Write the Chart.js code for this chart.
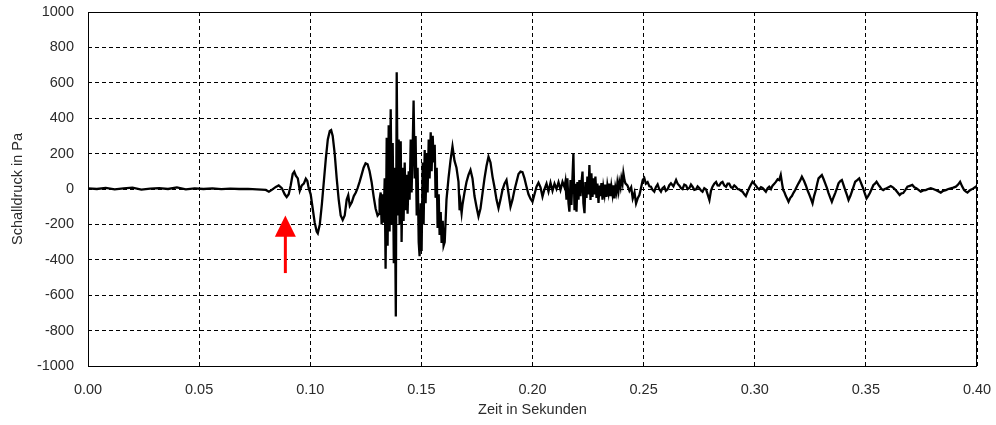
<!doctype html>
<html>

<head>
    <title>Schalldruck</title>
    <script src="https://cdn.jsdelivr.net/npm/chart.js@4.4.1/dist/chart.umd.min.js"></script>
    <style>
    body { margin: 0; background: #fff; }
    </style>
</head>

<body>
    <canvas id="mycanvas" width="996" height="425"></canvas>

<script>

// time in milliseconds, pressure in Pa
var quietMs = [0,4,8,12,16,20,24,28,32,36,40,44,48,52,56,60,64,68,72,76];
var quietPa = [3,0,6,-2,4,8,-3,2,5,0,9,-2,4,0,3,-1,2,0,1,-2];

var onsetMs = [80.0,81.4,82.7,84.5,85.8,87.2,88.5,89.4,90.3,91.2,92.1,92.8,93.5,94.4,95.3,96.2,97.1,98.0,98.7,99.3,
  100.2,101.1,102.0,102.9,103.4,104.3,105.2,106.1,107.0,107.9,108.8,109.4,110.1,111.0,111.9,112.8,113.7,114.6,115.5,116.4,
  117.1,117.8,118.7,119.6,120.5,121.3,122.2,123.1,124.0,124.9,125.8,126.7,127.6,128.5,129.4,130.3,131.0];
var onsetPa = [-5,-15,-5,12,20,5,-30,-45,-30,20,85,98,75,60,-10,20,30,58,45,5,
  -30,-110,-190,-240,-250,-200,-90,40,170,280,328,333,300,200,60,-60,-150,-175,-150,-60,
  -35,-95,-75,-40,-20,5,40,80,120,145,140,100,40,-40,-110,-150,-140];

var burstMs = [131.2,131.7,132.1,132.6,133.0,133.5,133.9,134.4,134.8,135.3,135.7,136.2,136.7,137.1,137.6,138.0,138.5,138.9,139.4,139.8,
  140.2,140.7,141.1,141.6,142.0,142.5,142.9,143.4,143.8,144.3,144.7,145.2,145.6,146.1,146.5,147.0,147.4,147.9,148.3,148.8,
  149.2,149.7,150.1,150.6,151.0,151.5,151.9,152.4,152.8,153.3,153.7,154.2,154.6,155.1,155.5,156.0,156.4,156.9,157.3,157.8,
  158.2,158.7,159.1,159.6,160.0];
var burstPa = [-60,-20,-200,-30,-190,60,-450,290,-320,360,-240,450,-200,260,-420,120,-720,660,-150,280,
  -200,270,-300,120,-180,150,-120,80,-140,100,-60,280,-20,250,500,60,300,-150,120,-300,
  -380,-80,-350,150,-200,220,-80,200,-20,280,60,320,100,300,150,250,-50,120,-220,-30,
  -260,-130,-305,-180,-320];

var midMs = [160.5,161.3,162.2,163.1,164.0,164.9,165.8,166.7,167.2,167.6,168.1,168.5,169.4,170.3,171.2,172.1,173.0,173.9,174.8,175.7,
  176.6,177.5,178.4,179.3,180.2,181.1,182.0,182.9,183.8,184.7,185.6,186.5,187.4,188.3,189.2,190.1,191.0,191.9,192.8,193.7,
  194.6,195.5,196.4,197.3,198.2,199.1,200.0,200.9,201.8,202.7,203.6,204.5,205.4,206.3,207.2,208.1,209.0,209.9,210.8,211.7,
  212.6,213.5,214.4];
var midPa = [-300,-60,60,160,240,160,120,40,-120,-80,-136,-90,-20,40,80,107,60,-40,-100,-155,
  -110,-25,60,130,182,150,70,10,-60,-108,-60,-5,30,51,-24,-100,-60,-5,40,85,
  98,95,60,13,-30,-55,-72,-30,13,36,10,-43,0,30,-15,35,-10,30,0,38,
  -5,40,10];

var tailBurstMs = [214.8,215.3,215.7,216.2,216.6,217.1,217.5,218.0,218.4,218.9,219.3,219.8,220.2,220.7,221.1,221.6,222.0,222.5,222.9,223.4,
  223.8,224.3,224.7,225.2,225.6,226.1,226.5,227.0,227.4,227.9,228.3,228.8,229.2,229.7,230.1,230.6,231.0,231.5,231.9,232.4,
  232.8,233.3,233.7,234.2,234.6,235.1,235.5,236.0,236.4,236.9,237.3,237.8,238.2,238.7,239.1,239.6,240.0,240.5,240.9,241.4,
  241.8];
var tailBurstPa = [40,-60,60,-80,-128,50,-90,70,201,-120,30,-128,40,-60,50,-40,30,98,-80,-137,
  40,-50,70,-30,136,-62,89,-45,60,-30,70,-50,30,-79,20,-40,34,-60,10,-30,
  25,-45,20,-20,30,-40,15,-30,20,-53,10,-20,34,-10,40,10,60,30,89,50,
  32];

var decayMs = [242.7,243.6,244.4,245.1,245.9,246.6,247.4,248.1,248.9,249.6,250.3,251.0,251.8,252.6,253.3,254.0,254.8,255.5,256.3,257.0,
  257.8,258.5,259.3,260.0,260.8,261.5,262.3,263.4,264.6,265.3,266.1,266.8,267.5,268.3,269.1,269.8,270.6,271.3,272.0,272.8,
  273.6,274.3,275.0,275.8,276.5,277.3,278.1,278.8,279.6,280.3,281.0,281.8,282.6,283.3,284.0,284.8,285.5,286.3,287.1,287.8,
  288.5,289.3,290.0,290.8,291.5,292.3,293.0,293.8,294.5,295.3,296.0,296.8,297.5,298.3,299.0,299.8,300.5,301.3,302.0,302.8,
  303.5,304.3,305.0,305.8,306.5,307.3,308.0,308.8,309.5,310.3,311.0,311.7,312.3,312.8,313.4,314.0,314.6,315.2,316.0,316.7,
  317.5,318.2,319.0,319.7,320.5,321.2,322.2,323.0,323.7,324.5,325.2,326.0,326.7,327.5,328.1,328.7,329.5,330.2,331.0,331.7,
  332.5,333.2,334.0,334.7,335.5,336.2,337.0,337.7,338.5,339.2,340.0,340.7,341.5,342.2,343.0,343.7,344.5,345.2,346.1,347.0,
  347.8,348.5,349.4,350.3,351.0,351.8,352.6,353.4,354.1,354.8,355.6,356.3,357.0,357.8,358.5,359.3,360.2,361.2,362.3,363.4,
  364.3,365.2,366.0,366.8,367.8,368.7,369.8,370.9,371.8,372.7,373.7,374.7,375.8,376.9,378.0,379.2,380.3,381.4,382.5,383.7,
  384.8,386.0,387.1,388.2,389.3,390.5,391.5,392.4,393.3,394.2,395.0,395.7,396.7,397.6,398.5,399.4,400.0];
var decayPa = [20,-10,10,-53,-20,-81,-50,-34,10,51,62,30,39,15,13,-5,-15,10,26,0,
  -15,5,13,-10,-2,20,32,15,51,30,19,5,0,25,19,0,6,25,13,-5,
  -2,15,6,-8,-15,5,-2,-30,-62,-10,13,30,40,20,19,35,40,20,13,30,
  30,10,6,20,13,0,-2,-10,-15,-30,-40,-15,6,25,41,30,19,5,-2,10,
  6,-5,-15,5,13,0,19,30,40,55,50,79,30,-6,-20,-40,-55,-72,-50,-40,
  -20,-6,15,32,50,70,45,20,-6,-30,-53,-81,-40,-6,30,60,70,79,55,32,
  5,-23,-50,-72,-45,-23,5,32,45,51,20,-6,-35,-62,-40,-15,15,41,50,60,
  35,13,-20,-53,-40,-23,0,23,30,41,25,13,0,-6,0,4,10,17,8,-6,
  -20,-34,-25,-23,-5,13,18,23,10,4,-5,-15,-8,-6,0,4,0,-6,-12,-20,
  -10,-6,0,4,8,13,25,41,15,-6,-15,-20,-8,-2,5,13,5];

// axis ticks
var timeTicks = [0, 0.05, 0.10, 0.15, 0.20, 0.25, 0.30, 0.35, 0.40];
var pressureTicks = [-1000, -800, -600, -400, -200, 0, 200, 400, 600, 800, 1000];

// red arrow marking the onset (time in s, pressures in Pa)
var arrowTime = 0.0888;
var arrowTip = -150;
var arrowHeadBase = -270;
var arrowTail = -475;

var zeitMs = [].concat(quietMs, onsetMs, burstMs, midMs, tailBurstMs, decayMs);
var druckPa = [].concat(quietPa, onsetPa, burstPa, midPa, tailBurstPa, decayPa);

var points = zeitMs.map(function(ms, i) {
    return { x: ms / 1000, y: druckPa[i] };
});

var textColor = '#2b2b2b';
var tickFont = { family: "'Liberation Sans', Arial, sans-serif", size: 14.5 };

// frame round the plot area and the red arrow
var framePlugin = {
    id: 'frame',
    afterDatasetsDraw: function(chart) {
        var ctx = chart.ctx;
        var a = chart.chartArea;
        var x = chart.scales.x, y = chart.scales.y;
        ctx.save();
        ctx.strokeStyle = '#000';
        ctx.lineWidth = 1;
        ctx.strokeRect(Math.round(a.left) + 0.5, Math.round(a.top) + 0.5,
            Math.round(a.right - a.left) - 1, Math.round(a.bottom - a.top));

        var ax = x.getPixelForValue(arrowTime);
        var tipY = y.getPixelForValue(arrowTip);
        var baseY = y.getPixelForValue(arrowHeadBase);
        var tailY = y.getPixelForValue(arrowTail);
        ctx.fillStyle = '#ff0000';
        ctx.fillRect(ax - 1.5, baseY - 1, 3, tailY - baseY + 1);
        ctx.beginPath();
        ctx.moveTo(ax, tipY);
        ctx.lineTo(ax + 10.5, baseY);
        ctx.lineTo(ax - 10.5, baseY);
        ctx.closePath();
        ctx.fill();
        ctx.restore();
    }
};

var ctx = document.getElementById('mycanvas');

var chart = new Chart(ctx, {
    type: 'line',
    data: {
        datasets: [{
            label: 'Schalldruck',
            data: points,
            borderColor: '#000',
            borderWidth: 2.3,
            pointRadius: 0,
            tension: 0,
            fill: false
        }]
    },
    options: {
        responsive: false,
        animation: false,
        layout: { padding: { top: 12, right: 19, bottom: 0, left: 0 } },
        plugins: {
            legend: { display: false },
            tooltip: { enabled: false }
        },
        scales: {
            x: {
                type: 'linear',
                min: 0,
                max: 0.4,
                afterFit: function(scale) {
                    scale.height = 59;
                    scale.paddingLeft = 0;
                    scale.paddingRight = 0;
                },
                afterBuildTicks: function(scale) {
                    scale.ticks = timeTicks.map(function(v) { return { value: v }; });
                },
                ticks: {
                    padding: 15,
                    color: textColor,
                    font: tickFont,
                    maxRotation: 0,
                    autoSkip: false,
                    callback: function(v) { return Number(v).toFixed(2); }
                },
                grid: { color: '#000', lineWidth: 1, drawTicks: false },
                border: { display: false, dash: [4, 3] },
                title: {
                    display: true,
                    text: 'Zeit in Sekunden',
                    color: textColor,
                    font: tickFont,
                    padding: { top: 0, bottom: 6 }
                }
            },
            y: {
                min: -1000,
                max: 1000,
                afterFit: function(scale) {
                    scale.width = 88;
                    scale.paddingTop = 0;
                    scale.paddingBottom = 0;
                },
                afterBuildTicks: function(scale) {
                    scale.ticks = pressureTicks.map(function(v) { return { value: v }; });
                },
                ticks: {
                    padding: 14,
                    color: textColor,
                    font: tickFont,
                    autoSkip: false,
                    callback: function(v) { return String(v); }
                },
                grid: { color: '#000', lineWidth: 1, drawTicks: false },
                border: { display: false, dash: [4, 3] },
                title: {
                    display: true,
                    text: 'Schalldruck in Pa',
                    color: textColor,
                    font: tickFont,
                    padding: { top: 9, bottom: 0 }
                }
            }
        }
    },
    plugins: [framePlugin]
});
</script>

</body>

</html>
